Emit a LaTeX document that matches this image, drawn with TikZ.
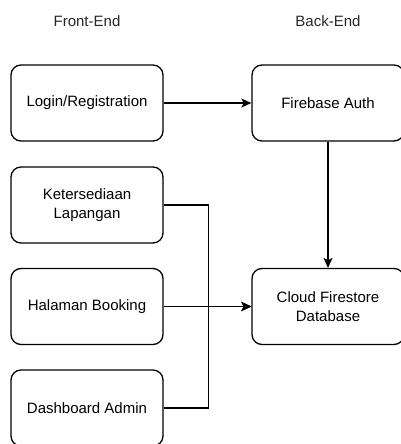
\documentclass[tikz,border=0pt]{standalone}
\usepackage{fontspec}
\setmainfont{Liberation Sans}
\usetikzlibrary{arrows.meta}
\begin{document}
\begin{tikzpicture}[x=1pt,y=-1pt,
  box/.style={draw=black,line width=1.3pt,rounded corners=10pt,minimum width=152pt,minimum height=76pt,inner sep=0pt,align=center,font=\fontsize{15}{18.5}\selectfont},
  lbl/.style={font=\fontsize{15}{18}\selectfont,text=black!85},
  conn/.style={draw=black,line width=1.3pt,-{Stealth[length=10pt,width=9pt,inset=2.5pt]}},
  plain/.style={draw=black,line width=1.3pt}]
\useasboundingbox (0,0) rectangle (400,444);
\node[lbl] (fe) at (87,21) {Front-End};
\node[lbl] (be) at (328,21) {Back-End};
\node[box] (login) at (87,103) {Login/Registration};
\node[box] (ket) at (87,205) {Ketersediaan\\Lapangan};
\node[box] (hal) at (87,306.5) {Halaman Booking};
\node[box] (dash) at (87,408) {Dashboard Admin};
\node[box] (auth) at (328,103) {Firebase Auth};
\node[box] (db) at (328,306.5) {Cloud Firestore\\Database};
\draw[conn] (login) -- (auth);
\draw[conn] (auth) -- (db);
\draw[conn] (hal) -- (db);
\draw[conn] (ket.east) -- ++(45,0) |- (db.west);
\draw[conn] (dash.east) -- ++(45,0) |- (db.west);
\end{tikzpicture}
\end{document}
